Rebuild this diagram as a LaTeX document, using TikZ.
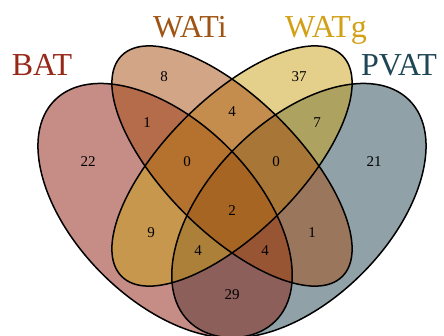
\documentclass[tikz,border=0pt]{standalone}
\usepackage{fontspec}
\setmainfont{Liberation Serif}
\definecolor{batcol}{RGB}{140,28,14}
\definecolor{waticol}{RGB}{165,76,16}
\definecolor{watgcol}{RGB}{202,162,24}
\definecolor{pvatcol}{RGB}{34,70,82}
\definecolor{battxt}{RGB}{150,40,25}
\definecolor{watitxt}{RGB}{160,84,20}
\definecolor{watgtxt}{RGB}{210,160,22}
\definecolor{pvattxt}{RGB}{30,70,84}
\begin{document}
\begin{tikzpicture}[x=1pt,y=1pt,
  setlabel/.style={font=\fontsize{32}{32}\selectfont, anchor=base, inner sep=0pt},
  count/.style={font=\fontsize{15}{15}\selectfont, inner sep=0pt},
  setfill/.style={fill=#1, fill opacity=0.5},
  setline/.style={draw=black, line width=1.5pt}]
\useasboundingbox (0,0) rectangle (444,335);
% set outlines: two wide outer ellipses and two slim inner ones
\def\bigA{156.1pt}\def\bigB{89.2pt}\def\slimB{66.9pt}
% translucent fills, stacked PVAT, BAT, WATg, WATi
\fill[setfill=pvatcol, shift={(298.9,124.4)}, rotate=45] (0,0) ellipse [x radius=\bigA, y radius=\bigB];
\fill[setfill=batcol, shift={(165.1,124.4)}, rotate=-45] (0,0) ellipse [x radius=\bigA, y radius=\bigB];
\fill[setfill=watgcol, shift={(232,169)}, rotate=45] (0,0) ellipse [x radius=\bigA, y radius=\slimB];
\fill[setfill=waticol, shift={(232,169)}, rotate=-45] (0,0) ellipse [x radius=\bigA, y radius=\slimB];
% outlines on top
\draw[setline, shift={(165.1,124.4)}, rotate=-45] (0,0) ellipse [x radius=\bigA, y radius=\bigB];
\draw[setline, shift={(232,169)}, rotate=-45] (0,0) ellipse [x radius=\bigA, y radius=\slimB];
\draw[setline, shift={(232,169)}, rotate=45] (0,0) ellipse [x radius=\bigA, y radius=\slimB];
\draw[setline, shift={(298.9,124.4)}, rotate=45] (0,0) ellipse [x radius=\bigA, y radius=\bigB];
% set names
\node[setlabel, text=battxt] (lbat) at (42,259) {BAT};
\node[setlabel, text=watitxt] (lwati) at (190,297) {WATi};
\node[setlabel, text=watgtxt] (lwatg) at (326,297) {WATg};
\node[setlabel, text=pvattxt] (lpvat) at (399,259) {PVAT};
% region counts
\node[count] (n8)  at (164,258) {8};
\node[count] (n37) at (299,258) {37};
\node[count] (n1a) at (147,212) {1};
\node[count] (n4a) at (232,223) {4};
\node[count] (n7)  at (317,212) {7};
\node[count] (n22) at (88,173) {22};
\node[count] (n0a) at (187,173) {0};
\node[count] (n0b) at (276,173) {0};
\node[count] (n21) at (374,173) {21};
\node[count] (n2)  at (232,124) {2};
\node[count] (n9)  at (151,102) {9};
\node[count] (n1b) at (312,102) {1};
\node[count] (n4b) at (198,84) {4};
\node[count] (n4c) at (265,84) {4};
\node[count] (n29) at (232,40) {29};
\end{tikzpicture}
\end{document}
